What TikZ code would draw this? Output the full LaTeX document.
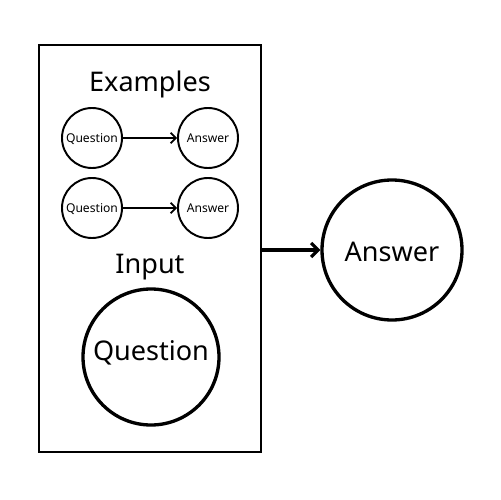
\documentclass[tikz,border=0pt]{standalone}
\usepackage{fontspec}
\setmainfont{Noto Sans}
\usetikzlibrary{arrows.meta}
\begin{document}
\begin{tikzpicture}[x=0.02cm,y=-0.02cm,
  smallc/.style={circle,draw,line width=1.1pt,minimum size=60*0.02cm,inner sep=0pt},
  smallt/.style={font=\fontsize{6.9}{8}\selectfont,inner sep=0pt,text height=5pt,text depth=0pt},
  bigc/.style={circle,draw,line width=1.9pt,inner sep=0pt},
  lbl/.style={font=\fontsize{15.4}{17}\selectfont,inner sep=0pt},
  arr/.style={-{Straight Barb[length=3pt,width=6pt]},line width=1pt},
  bigarr/.style={-{Straight Barb[length=4pt,width=8pt]},line width=1.8pt}]
\useasboundingbox (0,0) rectangle (500,500);
\node[draw,line width=1.1pt,minimum width=222*0.02cm,minimum height=407*0.02cm,inner sep=0pt] (box) at (150,248.5) {};
\node[lbl] (ex) at (150,84) {Examples};
\node[smallc] (q1) at (92,138) {};
\node[smallc] (a1) at (208,138) {};
\node[smallc] (q2) at (92,208) {};
\node[smallc] (a2) at (208,208) {};
\node[smallt] (q1t) at (q1) {Question};
\node[smallt] (a1t) at (a1) {Answer};
\node[smallt] (q2t) at (q2) {Question};
\node[smallt] (a2t) at (a2) {Answer};
\draw[arr] (q1) -- (a1);
\draw[arr] (q2) -- (a2);
\node[lbl] (in) at (150,267) {Input};
\node[bigc,minimum size=136*0.02cm] (q) at (151,357) {};
\node[lbl] (qt) at (151,353) {Question};
\node[bigc,minimum size=140*0.02cm] (a) at (392,250) {};
\node[lbl] (at) at (392,252) {Answer};
\draw[bigarr] (box.east |- a) -- (a);
\end{tikzpicture}
\end{document}
